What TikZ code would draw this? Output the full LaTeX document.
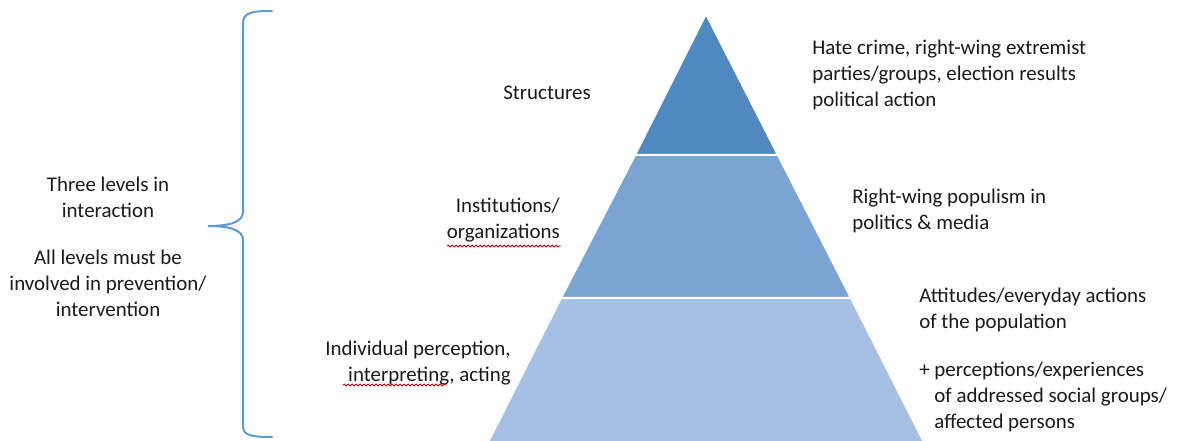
\documentclass[tikz,border=0pt]{standalone}
\usepackage{fontspec}
\setmainfont{Carlito}
\usetikzlibrary{decorations.pathmorphing}
\definecolor{tierA}{HTML}{5089C0}
\definecolor{tierB}{HTML}{7AA4D1}
\definecolor{tierC}{HTML}{A6C0E3}
\definecolor{brace}{HTML}{5B9BD5}
\definecolor{txt}{HTML}{1A1A1A}

\begin{document}
\begin{tikzpicture}[x=0.75pt,y=-0.75pt,
  tier/.style={draw=white,line width=1.5pt,line join=miter},
  lbl/.style={text=txt,inner sep=0pt,font=\fontsize{15.7}{19.6}\selectfont},
  squig/.style={draw=red!80!black,line width=0.6pt,decorate,decoration={snake,amplitude=0.7pt,segment length=3pt}}]
\useasboundingbox (0,0) rectangle (1180,441);
\clip (0,0) rectangle (1180,441);
% pyramid, three tiers
\fill[tierC,tier] (561,298) -- (851,298) -- (935,464) -- (477,464) -- cycle;
\fill[tierB,tier] (635,155) -- (778,155) -- (851,298) -- (561,298) -- cycle;
\fill[tierA,tier] (706,14) -- (778,155) -- (635,155) -- cycle;
% curly brace
\draw[brace,line width=1.5pt,line cap=round]
  (272,11) .. controls (250,11) and (243,13) .. (243,24) -- (243,212)
  .. controls (243,222) and (230,226) .. (208,226)
  .. controls (230,226) and (243,230) .. (243,240) -- (243,426)
  .. controls (243,435) and (250,437) .. (272,437);
% labels on the left of the pyramid
\node[lbl] (structures) at (547,93) {Structures};
\node[lbl,anchor=east,align=right] (institutions) at (560,220) {Institutions/\\organizations};
\node[lbl,anchor=east,align=right] (individual) at (511,363) {Individual perception,\\interpreting, acting};
\node[lbl,align=center] (levels) at (108,197) {Three levels in\\interaction};
\node[lbl,align=center] (involve) at (108,283) {All levels must be\\involved in prevention/\\intervention};
% labels on the right of the pyramid
\node[lbl,anchor=west,align=left] (hatecrime) at (812,75) {Hate crime, right-wing extremist\\parties/groups, election results\\political action};
\node[lbl,anchor=west,align=left] (populism) at (852,211) {Right-wing populism in\\politics \& media};
\node[lbl,anchor=west,align=left] (attitudes) at (919,310) {Attitudes/everyday actions\\of the population};
\node[lbl,anchor=west,align=left] (affected) at (919,397) {+ perceptions/experiences\\\hphantom{+ }of addressed social groups/\\\hphantom{+ }affected persons};
% spelling marks
\draw[squig] (447,246) -- (561,246);
\draw[squig] (343,385) -- (447,385);
\end{tikzpicture}
\end{document}
